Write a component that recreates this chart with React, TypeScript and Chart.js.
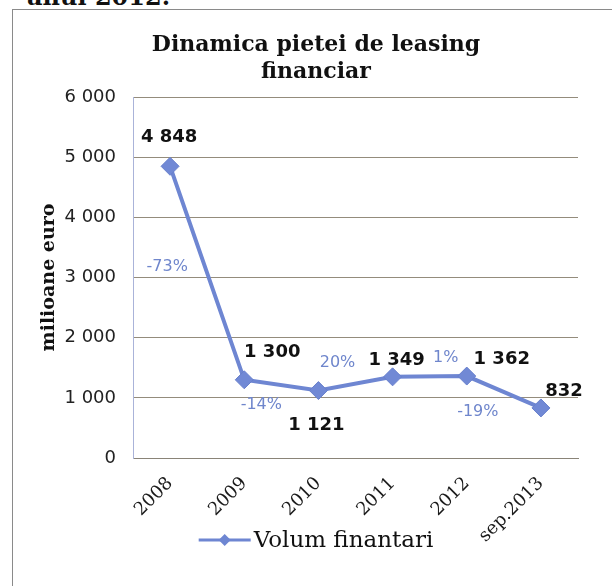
import React, { useEffect, useRef } from "react";
import { Chart, registerables } from "chart.js";

Chart.register(...registerables);

// ---- data ----
const categories = ["2008", "2009", "2010", "2011", "2012", "sep.2013"];
const volumValues = [4848, 1300, 1121, 1349, 1362, 832];
const changeLabels = ["-73%", "-14%", "20%", "1%", "-19%"];
const yTicks = [0, 1000, 2000, 3000, 4000, 5000, 6000];
const seriesName = "Volum finantari";
const titleLines = ["Dinamica pietei de leasing", "financiar"];
const yAxisTitle = "milioane euro";
const headingAbove = "anul 2012.";

// ---- style ----
const SERIF = "'DejaVu Serif', serif";
const SANS = "'DejaVu Sans', sans-serif";
const LINE = "#6e86d2";
const PCT = "#6f86cc";
const GRID = "#948c7c";

const fmt = (v: number) =>
  v >= 1000 ? `${Math.floor(v / 1000)} ${String(v % 1000).padStart(3, "0")}` : String(v);

// title + legend drawn centred on the whole chart object (the frame)
const decorPlugin = {
  id: "decor",
  afterDraw(chart: any, _args: any, opts: any) {
    const ctx = chart.ctx;
    const cx = chart.width / 2;
    ctx.save();
    // title
    ctx.font = `bold 22px ${SERIF}`;
    ctx.fillStyle = "#111";
    ctx.textAlign = "center";
    ctx.textBaseline = "middle";
    titleLines.forEach((t, i) => ctx.fillText(t, cx, opts.titleY + i * opts.titleLineGap));
    // legend
    ctx.font = `23px ${SERIF}`;
    ctx.textAlign = "left";
    const tw = ctx.measureText(seriesName).width;
    const mw = 52;
    const gap = 3;
    const total = mw + gap + tw;
    const x0 = cx - total / 2;
    const y = chart.chartArea.bottom + opts.legendDY;
    ctx.strokeStyle = LINE;
    ctx.lineWidth = 3;
    ctx.beginPath();
    ctx.moveTo(x0, y);
    ctx.lineTo(x0 + mw, y);
    ctx.stroke();
    ctx.fillStyle = LINE;
    ctx.beginPath();
    const mx = x0 + mw / 2;
    ctx.moveTo(mx - 6, y);
    ctx.lineTo(mx, y - 6);
    ctx.lineTo(mx + 6, y);
    ctx.lineTo(mx, y + 6);
    ctx.closePath();
    ctx.fill();
    ctx.fillStyle = "#111";
    ctx.fillText(seriesName, x0 + mw + gap, y + 1);
    ctx.restore();
  },
};

const labelPlugin = {
  id: "pointLabels",
  afterDatasetsDraw(chart: any, _args: any, opts: any) {
    const ctx = chart.ctx;
    const pts = chart.getDatasetMeta(0).data;
    ctx.save();
    ctx.textAlign = "center";
    ctx.textBaseline = "middle";
    ctx.font = `bold 18px ${SANS}`;
    ctx.fillStyle = "#111";
    pts.forEach((p: any, i: number) => {
      const [dx, dy] = opts.valueOffsets[i];
      ctx.fillText(fmt(volumValues[i]), p.x + dx, p.y + dy);
    });
    ctx.font = `16px ${SANS}`;
    ctx.fillStyle = PCT;
    changeLabels.forEach((t, i) => {
      const a = pts[i];
      const b = pts[i + 1];
      const [dx, dy] = opts.changeOffsets[i];
      ctx.fillText(t, (a.x + b.x) / 2 + dx, (a.y + b.y) / 2 + dy);
    });
    ctx.restore();
  },
};

function LeasingChart() {
  const ref = useRef<HTMLCanvasElement | null>(null);
  useEffect(() => {
    if (!ref.current) return;
    const chart = new Chart(ref.current, {
      type: "line",
      data: {
        labels: categories,
        datasets: [
          {
            label: seriesName,
            data: volumValues,
            borderColor: LINE,
            borderWidth: 4,
            backgroundColor: LINE,
            pointStyle: "rectRot",
            pointRadius: 9,
            pointBackgroundColor: "#7189d5",
            pointBorderColor: "#6880cc",
            pointBorderWidth: 1,
            tension: 0,
            fill: false,
          },
        ],
      },
      options: {
        animation: false,
        responsive: false,
        events: [],
        layout: { padding: { left: 20, right: 41, top: 87, bottom: 32 } },
        plugins: {
          title: { display: false },
          legend: { display: false },
          tooltip: { enabled: false },
          decor: { titleY: 35, titleLineGap: 27, legendDY: 82 },
          pointLabels: {
            valueOffsets: [
              [-1, -29],
              [28, -27],
              [-2, 35],
              [4, -17],
              [35, -17],
              [23, -17],
            ],
            changeOffsets: [
              [-40, -6],
              [-20, 20],
              [-18, -21],
              [16, -19],
              [-26, 20],
            ],
          },
        } as any,
        scales: {
          x: {
            offset: true,
            grid: { display: false, drawTicks: false },
            border: { display: true, color: "#8a8478", width: 1 },
            ticks: {
              autoSkip: false,
              maxRotation: 45,
              minRotation: 45,
              padding: 15,
              color: "#1a1a1a",
              font: { family: SERIF, size: 18 },
            },
            afterFit: (s: any) => {
              s.height = 110;
            },
          },
          y: {
            min: 0,
            max: 6000,
            afterBuildTicks: (s: any) => {
              s.ticks = yTicks.map((v) => ({ value: v }));
            },
            ticks: {
              color: "#222",
              padding: 17,
              font: { family: SANS, size: 18 },
              callback: (v: any) => fmt(Number(v)),
            },
            grid: { color: GRID, lineWidth: 1, drawTicks: false },
            border: { display: true, color: "#aab3d9", width: 1 },
            title: {
              display: true,
              text: yAxisTitle,
              color: "#111",
              font: { family: SERIF, size: 19, weight: "bold" },
              padding: { top: 5, bottom: 0 },
            },
            afterFit: (s: any) => {
              s.width = 100;
            },
          },
        },
      },
      plugins: [labelPlugin, decorPlugin],
    });
    return () => chart.destroy();
  }, []);
  return <canvas ref={ref} width={606} height={590} style={{ width: 606, height: 590, display: "block" }} />;
}

export default function App() {
  return (
    <div
      style={{
        position: "fixed",
        left: 0,
        top: 0,
        width: 612,
        height: 586,
        overflow: "hidden",
        background: "#fff",
      }}
    >
      <div
        style={{
          position: "absolute",
          left: 27,
          top: -18,
          font: `bold 24px ${SERIF}`,
          color: "#111",
          whiteSpace: "nowrap",
        }}
      >
        {headingAbove}
      </div>
      <div
        style={{
          position: "absolute",
          left: 12,
          top: 9,
          width: 608,
          height: 592,
          border: "1px solid #8a8a8a",
          background: "#fff",
        }}
      >
        <LeasingChart />
      </div>
    </div>
  );
}
